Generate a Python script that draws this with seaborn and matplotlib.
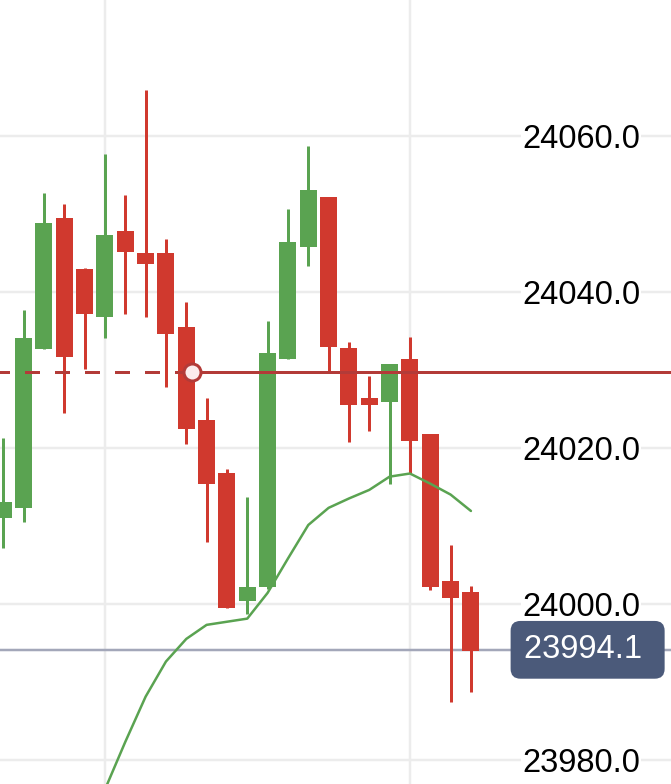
"""
Gráfico de velas (candlestick) com média móvel, linha de preço e rótulos à direita.
"""

import matplotlib
matplotlib.use("Agg")
import matplotlib.pyplot as plt
import matplotlib.transforms as mtransforms
import numpy as np
import pandas as pd
import seaborn as sns

# ── Dados ───────────────────────────────────────────────────────────────────

opens = [24011.0, 24012.3, 24032.7, 24049.4, 24042.9, 24036.8, 24047.8, 24045.0,
         24045.0, 24035.5, 24023.6, 24016.8, 24000.4, 24002.2, 24031.4, 24045.8,
         24052.1, 24032.8, 24026.4, 24025.9, 24031.4, 24021.8, 24002.9, 24001.5]
highs = [24021.3, 24037.7, 24052.7, 24051.2, 24043.1, 24057.7, 24052.4, 24065.8,
         24046.7, 24038.7, 24026.4, 24017.3, 24013.7, 24036.2, 24050.6, 24058.7,
         24052.1, 24033.6, 24029.2, 24030.8, 24034.2, 24021.8, 24007.6, 24002.3]
lows = [24007.2, 24010.5, 24032.7, 24024.4, 24030.1, 24034.1, 24037.1, 24036.8,
        24027.8, 24020.5, 24007.9, 23999.5, 23998.7, 24001.9, 24031.4, 24043.3,
        24029.6, 24020.8, 24022.2, 24015.3, 24016.8, 24001.8, 23987.4, 23988.7]
closes = [24013.1, 24034.1, 24048.8, 24031.7, 24037.1, 24047.3, 24045.1, 24043.6,
          24034.6, 24022.4, 24015.3, 23999.5, 24002.1, 24032.2, 24046.4, 24053.1,
          24032.9, 24025.5, 24025.5, 24030.8, 24020.9, 24002.2, 24000.8, 23994.0]

ma_index = [5, 6, 7, 8, 9, 10, 11, 12, 13, 14, 15, 16, 17, 18, 19, 20, 21, 22, 23]
ma_values = [23976.2, 23982.3, 23988.1, 23992.6, 23995.5, 23997.3, 23997.7, 23998.1,
             24001.4, 24005.8, 24010.1, 24012.3, 24013.5, 24014.6, 24016.3, 24016.7,
             24015.4, 24014.0, 24011.9]

price_ticks = [23980.0, 24000.0, 24020.0, 24040.0, 24060.0]
time_grid = [5, 20]

ref_level = 24029.7
ref_index = 9.3
last_price = 23994.1

# ── Estilo ──────────────────────────────────────────────────────────────────

GREEN = "#5aa351"
RED = "#d0392e"
REF_RED = "#b33b38"
GRID = "#ececec"
PX = 72 / 100  # 1 pixel em pontos (dpi 100)

sns.set_theme(style="white")
plt.rcParams["font.family"] = ["Liberation Sans", "DejaVu Sans"]

df = pd.DataFrame({"open": opens, "high": highs, "low": lows, "close": closes})
df["x"] = np.arange(len(df))
df["up"] = df["close"] >= df["open"]
df["color"] = np.where(df["up"], GREEN, RED)

fig = plt.figure(figsize=(6.71, 7.84), dpi=100)
ax = fig.add_axes([0, 0, 1, 1])

# grade
ax.set_xticks(time_grid)
ax.set_yticks(price_ticks, labels=[f"{t:.1f}" for t in price_ticks])
ax.grid(True, color=GRID, linewidth=2.5 * PX)
ax.set_axisbelow(True)
for s in ax.spines.values():
    s.set_visible(False)

# linha do último preço
ax.axhline(last_price, color="#a3a7b9", linewidth=2.5 * PX, zorder=1.5)

# velas
ax.vlines(df["x"], df["low"], df["high"], colors=df["color"], linewidth=3 * PX, zorder=2)
ax.bar(df["x"], (df["close"] - df["open"]).abs(),
       bottom=df[["open", "close"]].min(axis=1), width=0.836,
       color=df["color"], linewidth=0, zorder=2.2)

# média móvel
sns.lineplot(x=ma_index, y=ma_values, color=GREEN, linewidth=2.5 * PX, ax=ax, zorder=2.5)

# nível de referência: tracejado antes do marcador, contínuo depois
ax.plot([-0.2, ref_index], [ref_level, ref_level], color=REF_RED, linewidth=3 * PX,
        linestyle=(1.5, (5, 5)), zorder=3)
ax.plot([ref_index, 40], [ref_level, ref_level], color=REF_RED, linewidth=3 * PX,
        zorder=3)
ax.plot([ref_index], [ref_level], marker="o", markersize=17 * PX,
        markerfacecolor="#fcecec", markeredgecolor=REF_RED,
        markeredgewidth=3 * PX, zorder=3.5)

ax.set_xlim(-0.162, 32.84)
ax.set_ylim(23976.9, 24077.4)

# rótulos de preço à direita
ax.yaxis.tick_right()
ax.tick_params(axis="y", length=0, pad=-(671 - 522) * PX, labelsize=23.5,
               labelcolor="black")
ax.tick_params(axis="x", length=0, labelbottom=False)
for lbl in ax.get_yticklabels():
    lbl.set_bbox(dict(facecolor="white", edgecolor="none", pad=1))

# etiqueta do último preço
trans = mtransforms.blended_transform_factory(ax.transAxes, ax.transData)
ax.text(524 / 671, last_price, f"{last_price:.1f} ", transform=trans,
        ha="left", va="center", fontsize=23.5, color="white", zorder=6,
        bbox=dict(boxstyle="round,pad=0.41,rounding_size=0.3",
                  facecolor="#4b5a7a", edgecolor="none"))

fig.savefig("out.png", dpi=100)
